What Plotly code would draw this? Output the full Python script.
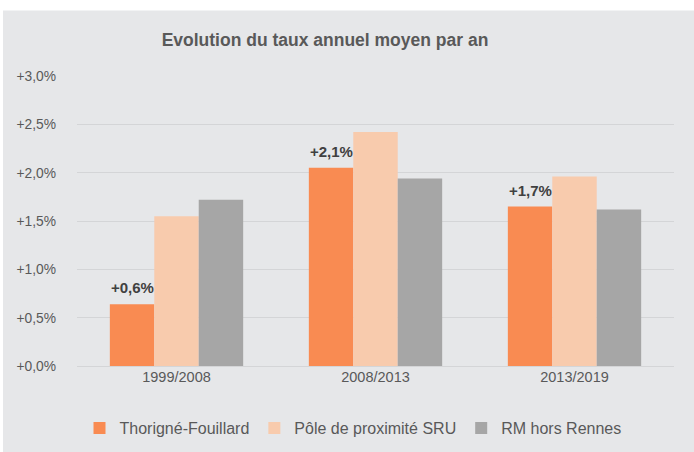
import plotly.graph_objects as go

categories = ["1999/2008", "2008/2013", "2013/2019"]
thorigne = [0.64, 2.05, 1.65]
pole_sru = [1.55, 2.42, 1.96]
rm_hors_rennes = [1.72, 1.94, 1.62]
thorigne_labels = ["+0,6%", "+2,1%", "+1,7%"]
tick_vals = [0, 0.5, 1.0, 1.5, 2.0, 2.5, 3.0]
tick_text = ["+0,0%", "+0,5%", "+1,0%", "+1,5%", "+2,0%", "+2,5%", "+3,0%"]

FONT = "Liberation Sans, Arial, sans-serif"
TXT = "#595959"

fig = go.Figure()
fig.add_trace(go.Bar(name="Thorigné-Fouillard", x=categories, y=thorigne,
                     marker=dict(color="#f98b52", line=dict(width=0))))
fig.add_trace(go.Bar(name="Pôle de proximité SRU", x=categories, y=pole_sru,
                     marker=dict(color="#f8cbad", line=dict(width=0))))
fig.add_trace(go.Bar(name="RM hors Rennes", x=categories, y=rm_hors_rennes,
                     marker=dict(color="#a6a6a6", line=dict(width=0))))

L, R, T, B = 77, 20, 75.5, 86
W, H = 694, 452
pw, ph = W - L - R, H - T - B
bargap = 0.33
bar_px = pw / len(categories) * (1 - bargap) / 3

for cat, val, lab in zip(categories, thorigne, thorigne_labels):
    fig.add_annotation(x=cat, y=val, text="<b>" + lab + "</b>", showarrow=False,
                       xshift=-bar_px, yanchor="bottom", yshift=6,
                       font=dict(family=FONT, size=15, color="#404040"))

fig.add_shape(type="rect", xref="paper", yref="paper", layer="below",
              x0=(3 - L) / pw, x1=(W + 5 - L) / pw,
              y0=(H - B - (H + 5)) / ph, y1=(H - B - 10) / ph,
              fillcolor="#e6e7e9", line=dict(width=0))

fig.update_layout(
    width=W, height=H,
    margin=dict(l=L, r=R, t=T, b=B, autoexpand=False),
    paper_bgcolor="white",
    plot_bgcolor="rgba(0,0,0,0)",
    barmode="group", bargap=bargap, bargroupgap=0,
    title=dict(text="<b>Evolution du taux annuel moyen par an</b>",
               font=dict(family=FONT, size=17.5, color=TXT),
               xref="container", yref="container",
               x=325 / W, xanchor="center", y=1 - 40 / H, yanchor="middle"),
    xaxis=dict(showline=False, ticks="", showgrid=False,
               tickfont=dict(family=FONT, size=14.5, color=TXT)),
    yaxis=dict(range=[0, 3.0], tickvals=tick_vals, ticktext=tick_text,
               showgrid=True, gridcolor="#d4d5d7", gridwidth=1.3,
               zeroline=True, zerolinecolor="#d4d5d7", zerolinewidth=1.3,
               showline=False, ticks="", ticklabelstandoff=20,
               tickfont=dict(family=FONT, size=13.8, color=TXT)),
    legend=dict(orientation="h", xref="container", yref="container",
                x=353 / W, xanchor="center",
                y=1 - 428 / H, yanchor="middle",
                font=dict(family=FONT, size=16, color=TXT),
                bgcolor="rgba(0,0,0,0)", itemwidth=30, traceorder="normal"),
    showlegend=True,
)

fig.write_html("out.html", config={"displayModeBar": False},
               post_script="document.body.style.margin='0';document.body.style.overflow='hidden';")
